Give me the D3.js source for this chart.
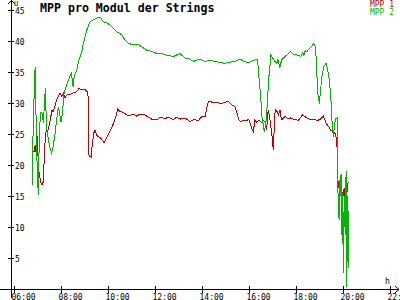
<!DOCTYPE html>
<html>
<head>
<meta charset="utf-8">
<script src="https://cdn.jsdelivr.net/npm/d3@7"></script>
<style>
  body { margin: 0; background: #fff; }
  svg { display: block; }
  text { font-family: "DejaVu Sans Mono", monospace; }
</style>
</head>
<body>
<div id="chart"></div>
<script>
const title = "MPP pro Modul der Strings";
const seriesNames = ["MPP 1", "MPP 2"];
const xTickLabels = ["06:00", "08:00", "10:00", "12:00", "14:00", "16:00", "18:00", "20:00", "22:00"];
const yTickValues = [5, 10, 15, 20, 25, 30, 35, 40, 45];

const mpp1Times = ["06:46","06:51","06:54","06:56","07:00","07:02","07:05","07:08","07:11","07:15",
  "07:17","07:20","07:23","07:26","07:29","07:34","07:37","07:40","07:44","07:49",
  "07:53","07:57","08:02","08:06","08:10","08:15","08:23","08:31","08:40","08:46",
  "08:53","09:01","09:07","09:10","09:11","09:14","09:17","09:20","09:24","09:27",
  "09:31","09:35","09:41","09:50","09:57","10:05","10:14","10:20","10:25","10:31",
  "10:39","10:52","11:05","11:13","11:22","11:34","11:43","11:54","12:06","12:13",
  "12:26","12:34","12:47","12:55","13:04","13:17","13:29","13:38","13:51","13:59",
  "14:08","14:12","14:16","14:20","14:29","14:38","14:50","15:07","15:16","15:24",
  "15:30","15:34","15:39","15:46","15:54","15:59","16:04","16:09","16:11","16:15",
  "16:20","16:25","16:32","16:37","16:41","16:45","16:49","16:54","16:58","17:01",
  "17:02","17:05","17:07","17:11","17:15","17:19","17:23","17:32","17:40","17:45",
  "17:53","18:06","18:17","18:27","18:36","18:44","18:53","19:01","19:10","19:14",
  "19:18","19:23","19:29","19:34","19:40","19:44","19:45","19:46","19:49","19:51",
  "19:53","19:55","19:58","20:00","20:03","20:05","20:08","20:10","20:13"];
const mpp1Values = [22.1,22.1,23.2,22.1,24.6,19.7,18.4,17.3,16.8,17.3,
  20.8,24.6,25.9,25.4,26.2,27.8,28.9,28.6,29.4,30.5,
  31.0,31.6,31.0,31.6,30.8,31.3,31.4,31.6,31.8,32.4,
  32.1,32.2,31.8,30.8,21.6,21.4,21.3,23.5,25.2,25.6,
  24.8,24.6,24.4,23.6,24.4,25.4,26.7,27.8,29.0,28.6,
  28.5,27.9,28.2,27.9,28.2,28.1,27.7,27.3,27.3,27.7,
  27.5,27.7,27.3,27.7,27.4,27.6,27.0,27.3,27.2,27.8,
  27.8,29.1,30.2,30.3,30.0,30.1,29.9,30.3,29.7,29.4,
  28.3,27.3,27.0,27.2,27.1,27.4,26.5,25.6,25.4,27.2,
  26.9,27.2,26.9,27.2,26.9,25.6,28.9,27.2,25.1,23.2,
  22.4,26.9,28.9,28.7,28.1,28.9,27.3,27.8,27.5,27.6,
  27.4,27.2,28.1,27.6,27.3,27.4,27.2,27.3,27.9,27.2,
  26.6,26.2,25.6,25.4,25.1,24.0,22.4,18.1,16.5,16.0,
  17.5,14.9,15.5,14.9,16.3,14.4,16.0,15.5,17.3];

const mpp2Times = ["06:46","06:47","06:49","06:52","06:54","06:58","07:02","07:05","07:09","07:12",
  "07:15","07:20","07:23","07:28","07:32","07:36","07:40","07:45","07:49","07:53",
  "07:56","08:00","08:03","08:08","08:13","08:19","08:26","08:29","08:31","08:34",
  "08:40","08:44","08:49","08:54","08:57","09:06","09:14","09:22","09:31","09:41",
  "09:48","09:57","10:05","10:14","10:22","10:35","10:43","10:52","11:05","11:17",
  "11:26","11:39","11:52","12:04","12:17","12:30","12:47","13:04","13:17","13:29",
  "13:38","13:55","14:08","14:20","14:33","14:59","15:12","15:24","15:37","15:46",
  "15:58","16:11","16:22","16:26","16:30","16:32","16:37","16:39","16:43","16:47",
  "16:50","16:54","16:56","17:01","17:06","17:11","17:14","17:19","17:23","17:32",
  "17:40","17:46","17:53","18:06","18:12","18:17","18:20","18:24","18:28","18:34",
  "18:40","18:44","18:49","18:51","18:54","18:57","19:00","19:02","19:06","19:11",
  "19:17","19:21","19:25","19:29","19:31","19:34","19:35","19:38","19:41","19:45",
  "19:46","19:50","19:51","19:52","19:55","19:56","19:58","19:59","20:01","20:03",
  "20:04","20:07","20:08","20:09","20:10","20:11","20:13","20:14"];
const mpp2Values = [16.8,19.8,26.1,32.6,35.8,21.9,15.2,26.1,28.5,28.4,
  26.8,32.4,26.0,24.0,22.7,21.9,23.0,25.2,27.3,29.4,
  28.5,26.9,28.0,31.6,32.6,33.7,34.8,33.7,32.6,34.5,
  35.2,36.5,37.5,38.5,39.6,41.8,43.1,43.4,43.7,43.8,
  43.1,42.9,42.6,42.0,41.5,41.0,40.2,39.6,39.4,39.4,
  39.1,38.5,38.3,38.0,38.0,37.7,37.5,38.0,37.2,37.1,
  36.7,37.1,36.7,36.9,36.7,36.4,36.6,36.7,37.1,36.7,
  36.5,36.9,37.0,33.7,31.0,28.3,26.2,25.4,26.7,30.0,
  33.7,36.4,37.8,37.2,36.7,36.4,37.0,35.7,36.9,37.5,
  37.9,38.3,37.9,37.7,37.5,38.1,37.7,38.5,38.3,38.8,
  39.1,39.6,39.2,37.7,33.7,30.5,30.1,31.6,34.2,35.9,
  36.4,35.3,33.7,31.0,27.8,25.6,24.6,26.2,27.5,27.6,
  17.6,11.1,17.6,14.5,18.5,12.7,7.3,15.5,2.6,15.0,
  10.0,18.1,4.4,19.0,0.4,15.0,3.4,12.6];

const width = 400;
const height = 300;
const colors = ["#c00000", "#00b400"];

const parseTime = d3.timeParse("%H:%M");
const mpp1 = mpp1Times.map((t, i) => ({ t: parseTime(t), v: mpp1Values[i] }));
const mpp2 = mpp2Times.map((t, i) => ({ t: parseTime(t), v: mpp2Values[i] }));

const svg = d3.select("#chart")
  .append("svg")
  .attr("width", width)
  .attr("height", height);

const x = d3.scaleTime()
  .domain([parseTime("06:00"), parseTime("22:00")])
  .range([14, 390]);

const y = d3.scaleLinear()
  .domain([0, 45])
  .range([289, 10]);

const axisColor = "#000";

// x axis
const xAxis = svg.append("g")
  .attr("transform", "translate(0,286)")
  .call(d3.axisBottom(x)
    .tickValues(xTickLabels.map(parseTime))
    .tickFormat(d3.timeFormat("%H:%M"))
    .tickSize(7));
xAxis.select(".domain").remove();
xAxis.selectAll("line").attr("stroke", axisColor).attr("shape-rendering", "crispEdges");
xAxis.selectAll("text")
  .attr("x", -3)
  .attr("y", 14)
  .attr("dy", null)
  .attr("text-anchor", "start")
  .attr("fill", axisColor)
  .style("font-size", "8px");

// y axis
const yAxis = svg.append("g")
  .attr("transform", "translate(11,0)")
  .call(d3.axisRight(y).tickValues(yTickValues).tickSize(3));
yAxis.select(".domain").remove();
yAxis.selectAll("line").attr("x1", -3).attr("x2", 3).attr("stroke", axisColor).attr("shape-rendering", "crispEdges");
yAxis.selectAll("text")
  .attr("x", 4)
  .attr("dy", "0.4em")
  .attr("text-anchor", "start")
  .attr("fill", axisColor)
  .style("font-size", "8px");

// axis lines with arrows
svg.append("line")
  .attr("x1", 0).attr("x2", 399).attr("y1", 289.5).attr("y2", 289.5)
  .attr("stroke", axisColor);
svg.append("line")
  .attr("x1", 11.5).attr("x2", 11.5).attr("y1", 0).attr("y2", 298)
  .attr("stroke", axisColor);
svg.append("path")
  .attr("d", "M395,286 L399,289.5 L395,293")
  .attr("fill", "none").attr("stroke", axisColor);
svg.append("path")
  .attr("d", "M8,4 L11.5,0.5 L15,4")
  .attr("fill", "none").attr("stroke", axisColor);

svg.append("text").attr("x", 14).attr("y", 6).text("U").style("font-size", "7px");
svg.append("text").attr("x", 385).attr("y", 284).text("h").style("font-size", "8px");

// lines
const line = d3.line()
  .x(d => x(d.t))
  .y(d => y(d.v));

[mpp1, mpp2].forEach((data, i) => {
  svg.append("path")
    .datum(data)
    .attr("fill", "none")
    .attr("stroke", colors[i])
    .attr("stroke-width", 1)
    .attr("shape-rendering", "crispEdges")
    .attr("d", line);
});

// title
svg.append("text")
  .attr("x", 40)
  .attr("y", 12)
  .text(title)
  .style("font-size", "11.6px")
  .style("font-weight", "bold");

// legend
seriesNames.forEach((name, i) => {
  svg.append("text")
    .attr("x", 394)
    .attr("y", 7 + i * 8)
    .attr("text-anchor", "end")
    .attr("fill", colors[i])
    .style("font-size", "8px")
    .text(name);
});
</script>
</body>
</html>
